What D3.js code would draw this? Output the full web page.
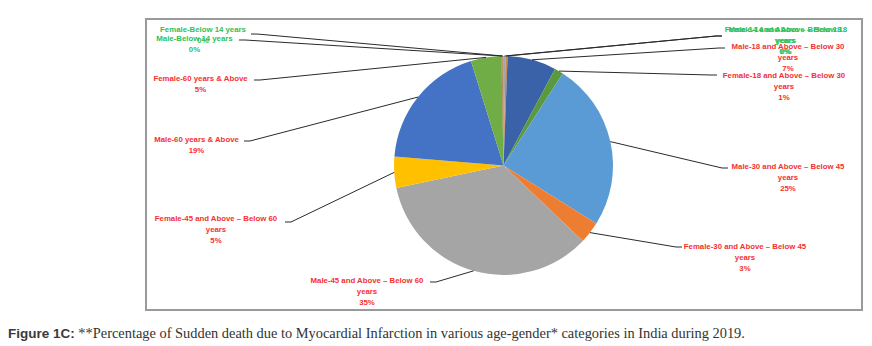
<!DOCTYPE html>
<html><head><meta charset="utf-8">
<script src="https://cdn.jsdelivr.net/npm/d3@7"></script>
<style>html,body{margin:0;padding:0;background:#fff;} svg{display:block}</style>
</head><body><svg id="chart" width="872" height="346"></svg>
<script>
// ---- data ----
const categories = [
  "Male-14 and Above – Below 18 years",
  "Female-14 and Above – Below 18 years",
  "Male-18 and Above – Below 30 years",
  "Female-18 and Above – Below 30 years",
  "Male-30 and Above – Below 45 years",
  "Female-30 and Above – Below 45 years",
  "Male-45 and Above – Below 60 years",
  "Female-45 and Above – Below 60 years",
  "Male-60 years & Above",
  "Female-60 years & Above",
  "Male-Below 14 years",
  "Female-Below 14 years"
];
const values = [0.3, 0.3, 7.2, 1.3, 24.8, 3.2, 34.6, 4.6, 18.9, 4.5, 0.15, 0.15];
const sliceColors = ["#a5a5a5", "#c9884f", "#3a62a8", "#5a9a3d", "#5b9bd5", "#ed7d31",
                     "#a5a5a5", "#ffc000", "#4472c4", "#70ad47", "#9e6a3a", "#b07a4a"];
const captionBold = "Figure 1C:";
const captionText = " **Percentage of Sudden death due to Myocardial Infarction in various age-gender* categories in India during 2019.";

// ---- layout (label centre x, first-line centre y, leader end point) ----
const labelLayout = [
  {x: 785, y: 29,  ex: 722, ey: 36},
  {x: 786, y: 29.5,ex: 722, ey: 36},
  {x: 788, y: 46,  ex: 725, ey: 48},
  {x: 784, y: 75,  ex: 717, ey: 75},
  {x: 788, y: 166, ex: 728, ey: 168},
  {x: 745, y: 246, ex: 682, ey: 247},
  {x: 367, y: 280, ex: 430, ey: 282},
  {x: 216, y: 218, ex: 285, ey: 222},
  {x: 196.5, y: 139, ex: 244, ey: 141},
  {x: 200.5, y: 78, ex: 254, ey: 80},
  {x: 194.5, y: 38, ex: 239, ey: 40},
  {x: 203, y: 29,  ex: 251, ey: 34}
];

const svg = d3.select("#chart");
svg.append("rect").attr("width", 872).attr("height", 346).attr("fill", "#fff");

// frame
svg.append("rect").attr("x", 146).attr("y", 19).attr("width", 716).attr("height", 291)
  .attr("fill", "none").attr("stroke", "#9a9a9a").attr("stroke-width", 2);

const cx = 503.5, cy = 165.5, R = 109.5;
const pie = d3.pie().sort(null).value(d => d)(values);
const arc = d3.arc().innerRadius(0).outerRadius(R);
const edge = d3.arc().innerRadius(R).outerRadius(R);

const g = svg.append("g").attr("transform", `translate(${cx},${cy})`);
g.selectAll("path.slice").data(pie).join("path")
  .attr("class", "slice")
  .attr("d", arc)
  .attr("fill", (d, i) => sliceColors[i]);

// leader lines
const lineGen = d3.line();
svg.selectAll("path.leader").data(pie).join("path")
  .attr("class", "leader")
  .attr("fill", "none").attr("stroke", "#2a2a2a").attr("stroke-width", 1)
  .attr("d", (d, i) => {
    const [px, py] = edge.centroid(d);
    const L = labelLayout[i];
    const dir = L.ex > cx ? -1 : 1;
    return lineGen([[cx + px, cy + py], [L.ex + dir * 6, L.ey], [L.ex, L.ey]]);
  });

// labels
const lineH = 11;
const lab = svg.selectAll("text.lab").data(pie).join("text")
  .attr("class", "lab")
  .attr("text-anchor", "middle")
  .attr("font-family", "Liberation Sans, Arial, sans-serif")
  .attr("font-weight", "bold")
  .attr("font-size", 7.8)
  .attr("fill", (d, i) => Math.round(values[i]) === 0 ? "#2dbf5a" : "#f53030");
lab.each(function(d, i) {
  const name = categories[i];
  let lines;
  if (name.endsWith(" years") && name.length > 25) {
    lines = [name.slice(0, -6), "years"];
  } else lines = [name];
  lines.push(Math.round(values[i]) + "%");
  const L = labelLayout[i];
  d3.select(this).selectAll("tspan").data(lines).join("tspan")
    .attr("x", L.x).attr("y", (t, k) => L.y + 2.8 + k * lineH).text(t => t);
});

// caption
const cap = svg.append("text").attr("x", 8).attr("y", 338).attr("fill", "#333");
cap.append("tspan").attr("font-family", "Liberation Sans Narrow, Liberation Sans, Arial, sans-serif")
  .attr("font-weight", "bold").attr("font-size", 13.5).attr("fill", "#3a3a3a").text(captionBold);
cap.append("tspan").attr("font-family", "Liberation Serif, Times New Roman, serif")
  .attr("font-size", 14.4).text(captionText);
</script>
</body></html>
